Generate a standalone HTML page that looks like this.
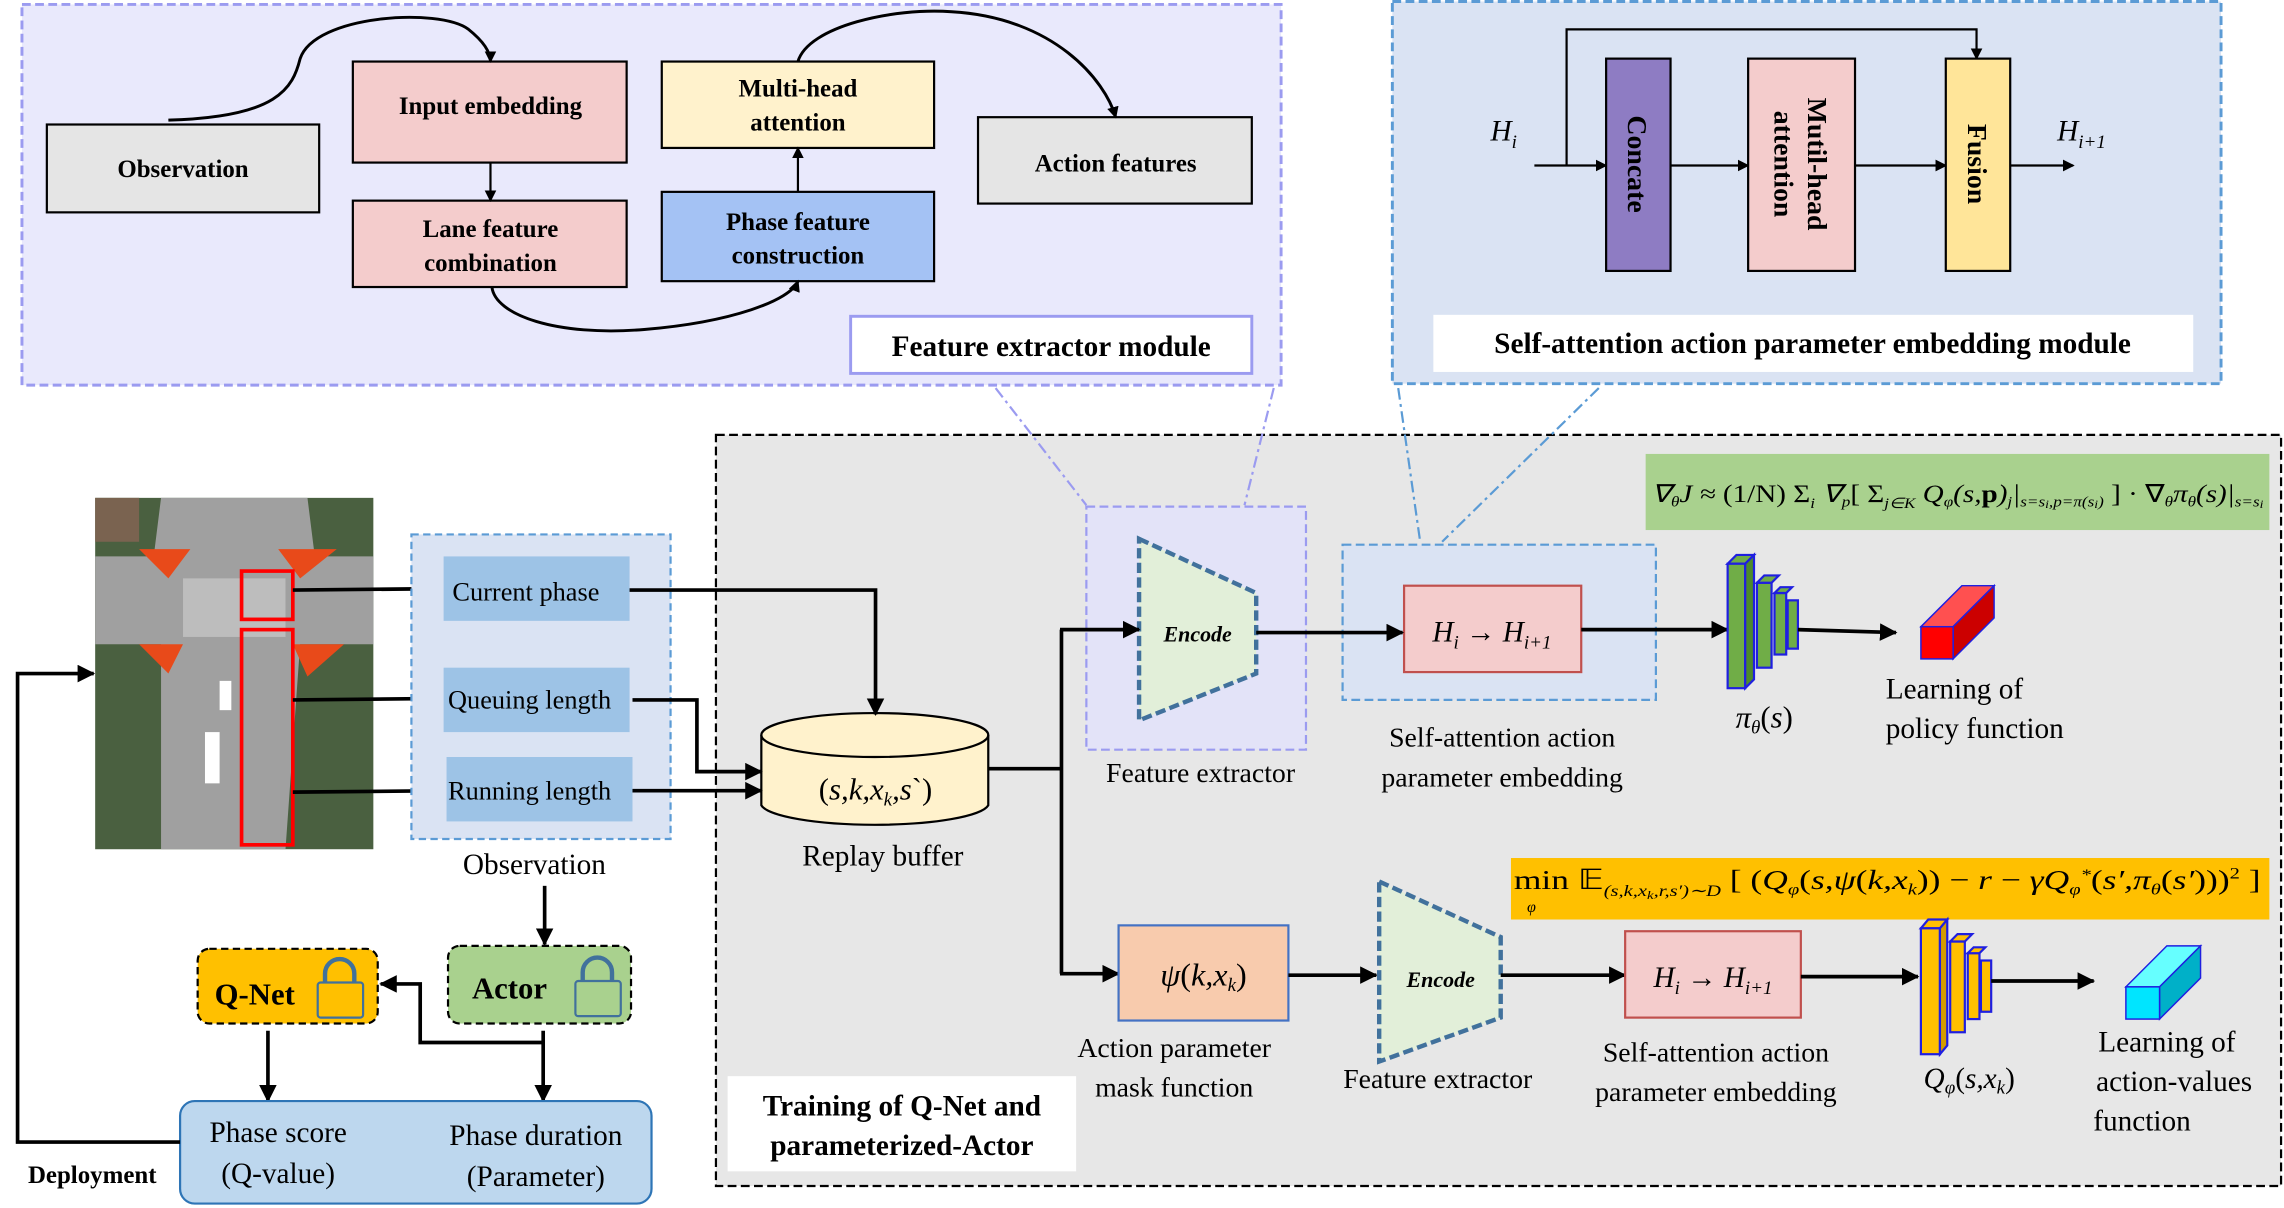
<!DOCTYPE html>
<html><head><meta charset="utf-8"><style>
html,body{margin:0;padding:0;background:#fff}
svg{display:block}
text{font-family:"Liberation Serif",serif;fill:#000}
.b{font-weight:bold}
.i{font-style:italic}
</style></head><body>
<svg width="2284" height="1208" viewBox="0 0 1560 825" xmlns="http://www.w3.org/2000/svg">
<defs>
<marker id="a" markerWidth="8" markerHeight="8" refX="7" refY="4" orient="auto" markerUnits="userSpaceOnUse"><path d="M0,0 L8,4 L0,8 z" fill="#000"/></marker>
<marker id="a2" markerWidth="12" markerHeight="12" refX="11" refY="6" orient="auto" markerUnits="userSpaceOnUse"><path d="M0,0 L12,6 L0,12 z" fill="#000"/></marker>
</defs>

<!-- Feature extractor module -->
<rect x="15" y="3" width="860" height="260" fill="#e9e9fc" stroke="#9b9bf0" stroke-width="2" stroke-dasharray="6,3"/>
<rect x="32" y="85" width="186" height="60" fill="#e5e5e5" stroke="#000" stroke-width="1.5"/>
<text x="125" y="121" class="b" font-size="17" text-anchor="middle">Observation</text>
<rect x="241" y="42" width="187" height="69" fill="#f4cccc" stroke="#000" stroke-width="1.5"/>
<text x="335" y="78" class="b" font-size="17" text-anchor="middle">Input embedding</text>
<rect x="241" y="137" width="187" height="59" fill="#f4cccc" stroke="#000" stroke-width="1.5"/>
<text x="335" y="162" class="b" font-size="17" text-anchor="middle">Lane feature</text>
<text x="335" y="185" class="b" font-size="17" text-anchor="middle">combination</text>
<rect x="452" y="42" width="186" height="59" fill="#fff2cc" stroke="#000" stroke-width="1.5"/>
<text x="545" y="66" class="b" font-size="17" text-anchor="middle">Multi-head</text>
<text x="545" y="89" class="b" font-size="17" text-anchor="middle">attention</text>
<rect x="452" y="131" width="186" height="61" fill="#a4c2f4" stroke="#000" stroke-width="1.5"/>
<text x="545" y="157" class="b" font-size="17" text-anchor="middle">Phase feature</text>
<text x="545" y="180" class="b" font-size="17" text-anchor="middle">construction</text>
<rect x="668" y="80" width="187" height="59" fill="#e5e5e5" stroke="#000" stroke-width="1.5"/>
<text x="762" y="117" class="b" font-size="17" text-anchor="middle">Action features</text>
<path d="M115,82 C190,80 200,60 205,40 C215,10 300,5 320,20 C330,28 335,35 335,42" fill="none" stroke="#000" stroke-width="2" marker-end="url(#a)"/>
<line x1="335" y1="111" x2="335" y2="137" stroke="#000" stroke-width="1.5" marker-end="url(#a)"/>
<path d="M336,196 C338,215 380,230 440,225 C500,220 540,205 545,192" fill="none" stroke="#000" stroke-width="2" marker-end="url(#a)"/>
<line x1="545" y1="131" x2="545" y2="101" stroke="#000" stroke-width="1.5" marker-end="url(#a)"/>
<path d="M545,42 C552,18 610,5 650,8 C720,12 755,55 762,80" fill="none" stroke="#000" stroke-width="2" marker-end="url(#a)"/>
<rect x="581" y="216" width="274" height="39" fill="#fff" stroke="#9b9bf0" stroke-width="2"/>
<text x="718" y="243" class="b" font-size="20" text-anchor="middle">Feature extractor module</text>

<!-- Self-attention module -->
<rect x="951" y="1" width="566" height="261" fill="#dae3f3" stroke="#5b9bd5" stroke-width="2" stroke-dasharray="6,3"/>
<text x="1018" y="96" class="i" font-size="20">H<tspan font-size="13" dy="5">i</tspan></text>
<line x1="1048" y1="113" x2="1097" y2="113" stroke="#000" stroke-width="1.5" marker-end="url(#a)"/>
<polyline points="1070,113 1070,20 1350,20 1350,40" fill="none" stroke="#000" stroke-width="1.5" marker-end="url(#a)"/>
<rect x="1097" y="40" width="44" height="145" fill="#8e7cc3" stroke="#000" stroke-width="1.5"/>
<text transform="translate(1112,112) rotate(90)" class="b" font-size="19" text-anchor="middle">Concate</text>
<line x1="1141" y1="113" x2="1194" y2="113" stroke="#000" stroke-width="1.5" marker-end="url(#a)"/>
<rect x="1194" y="40" width="73" height="145" fill="#f4cccc" stroke="#000" stroke-width="1.5"/>
<text transform="translate(1235,112) rotate(90)" class="b" font-size="19" text-anchor="middle">Mutil-head</text>
<text transform="translate(1212,112) rotate(90)" class="b" font-size="19" text-anchor="middle">attention</text>
<line x1="1267" y1="113" x2="1329" y2="113" stroke="#000" stroke-width="1.5" marker-end="url(#a)"/>
<rect x="1329" y="40" width="44" height="145" fill="#ffe599" stroke="#000" stroke-width="1.5"/>
<text transform="translate(1344,112) rotate(90)" class="b" font-size="19" text-anchor="middle">Fusion</text>
<line x1="1373" y1="113" x2="1416" y2="113" stroke="#000" stroke-width="1.5" marker-end="url(#a)"/>
<text x="1405" y="96" class="i" font-size="20">H<tspan font-size="13" dy="5">i+1</tspan></text>
<rect x="979" y="215" width="519" height="39" fill="#fff"/>
<text x="1238" y="241" class="b" font-size="20" text-anchor="middle">Self-attention action parameter embedding module</text>

<!-- Training box -->
<rect x="489" y="297" width="1069" height="513" fill="#e7e7e7" stroke="#000" stroke-width="1.5" stroke-dasharray="6,3"/>

<!-- dash-dot connectors -->
<line x1="680" y1="265" x2="742" y2="345" stroke="#9b9bf0" stroke-width="1.5" stroke-dasharray="8,3,2,3"/>
<line x1="870" y1="265" x2="850" y2="345" stroke="#9b9bf0" stroke-width="1.5" stroke-dasharray="8,3,2,3"/>
<line x1="955" y1="265" x2="970" y2="370" stroke="#5b9bd5" stroke-width="1.5" stroke-dasharray="8,3,2,3"/>
<line x1="1092" y1="265" x2="985" y2="370" stroke="#5b9bd5" stroke-width="1.5" stroke-dasharray="8,3,2,3"/>

<rect x="1124" y="310" width="426" height="52" fill="#a9d18e"/>
<text x="1128" y="343" font-size="17" class="i" textLength="418" lengthAdjust="spacingAndGlyphs">∇<tspan font-size="10" dy="3">θ</tspan><tspan dy="-3">J ≈ </tspan><tspan font-style="normal">(1/N) Σ</tspan><tspan font-size="10" dy="4">i</tspan><tspan dy="-4"> ∇</tspan><tspan font-size="10" dy="3">p</tspan><tspan dy="-3" font-style="normal">[ Σ</tspan><tspan font-size="10" dy="4">j∈K</tspan><tspan dy="-4"> Q</tspan><tspan font-size="10" dy="3">φ</tspan><tspan dy="-3">(s,</tspan><tspan font-weight="bold" font-style="normal">p</tspan><tspan>)</tspan><tspan font-size="10" dy="3">j</tspan><tspan dy="-3">|</tspan><tspan font-size="10" dy="3">s=s</tspan><tspan font-size="8" dy="1">i</tspan><tspan font-size="10" dy="-1">,p=π(s</tspan><tspan font-size="8" dy="1">i</tspan><tspan font-size="10" dy="-1">)</tspan><tspan dy="-3" font-style="normal"> ] · ∇</tspan><tspan font-size="10" dy="3">θ</tspan><tspan dy="-3">π</tspan><tspan font-size="10" dy="3">θ</tspan><tspan dy="-3">(s)|</tspan><tspan font-size="10" dy="3">s=s</tspan><tspan font-size="8" dy="1">i</tspan></text>

<!-- Feature extractor (upper) -->
<rect x="742" y="346" width="150" height="166" fill="#e3e3f8" stroke="#9b9bf0" stroke-width="1.5" stroke-dasharray="6,3"/>
<polygon points="778,368 858,405 858,460 778,492" fill="#e2efd9" stroke="#41719c" stroke-width="3" stroke-dasharray="7,3"/>
<text x="818" y="438" class="b i" font-size="15" text-anchor="middle">Encode</text>
<text x="820" y="534" font-size="19" text-anchor="middle">Feature extractor</text>
<rect x="917" y="372" width="214" height="106" fill="#dae3f3" stroke="#5b9bd5" stroke-width="1.5" stroke-dasharray="6,3"/>
<rect x="959" y="400" width="121" height="59" fill="#f4cccc" stroke="#c0504d" stroke-width="1.5"/>
<text x="1019" y="438" class="i" font-size="20" text-anchor="middle">H<tspan font-size="13" dy="5">i</tspan><tspan dy="-5" font-style="normal"> → </tspan>H<tspan font-size="13" dy="5">i+1</tspan></text>
<text x="1026" y="510" font-size="19" text-anchor="middle">Self-attention action</text>
<text x="1026" y="537" font-size="19" text-anchor="middle">parameter embedding</text>
<line x1="858" y1="432" x2="958" y2="432" stroke="#000" stroke-width="2.5" marker-end="url(#a2)"/>
<line x1="1080" y1="430" x2="1180" y2="430" stroke="#000" stroke-width="2.5" marker-end="url(#a2)"/>
<g stroke="#1f1fe0" stroke-width="1.5">
<polygon points="1180,385 1186,379 1198,379 1192,385" fill="#70ad47"/>
<rect x="1180" y="385" width="12" height="85" fill="#70ad47"/>
<polygon points="1192,385 1198,379 1198,464 1192,470" fill="#4e8a2c"/>
<rect x="1200" y="398" width="10" height="58" fill="#70ad47"/>
<polygon points="1200,398 1205,393 1215,393 1210,398" fill="#70ad47"/>
<rect x="1212" y="405" width="8" height="42" fill="#70ad47"/>
<polygon points="1212,405 1216,401 1224,401 1220,405" fill="#70ad47"/>
<rect x="1221" y="410" width="7" height="33" fill="#70ad47"/>
</g>
<text x="1205" y="497" font-size="21" text-anchor="middle" class="i">π<tspan font-size="13" dy="4">θ</tspan><tspan dy="-4" font-style="normal">(</tspan>s<tspan font-style="normal">)</tspan></text>
<line x1="1228" y1="430" x2="1295" y2="432" stroke="#000" stroke-width="2.5" marker-end="url(#a2)"/>
<g stroke="#1f1fe0" stroke-width="1">
<polygon points="1312,428 1340,400 1362,400 1334,428" fill="#ff5050"/>
<polygon points="1334,428 1362,400 1362,422 1334,450" fill="#cc0000"/>
<rect x="1312" y="428" width="22" height="22" fill="#ff0000"/>
</g>
<text x="1288" y="477" font-size="20">Learning of</text>
<text x="1288" y="504" font-size="20">policy function</text>

<!-- Replay buffer -->
<path d="M520,502 L520,550 A78,15 0 0 0 675,550 L675,502" fill="#fff2cc" stroke="#000" stroke-width="1.5"/>
<ellipse cx="597.5" cy="502" rx="77.5" ry="15" fill="#fff2cc" stroke="#000" stroke-width="1.5"/>
<text x="598" y="546" class="i" font-size="21" text-anchor="middle"><tspan font-style="normal">(</tspan>s,k,x<tspan font-size="13" dy="4">k</tspan><tspan dy="-4">,s</tspan><tspan font-style="normal">`)</tspan></text>
<text x="603" y="591" font-size="20" text-anchor="middle">Replay buffer</text>
<polyline points="675,525 725,525" fill="none" stroke="#000" stroke-width="2.5"/>
<line x1="725" y1="430" x2="725" y2="665" stroke="#000" stroke-width="2.5"/>
<line x1="724" y1="430" x2="778" y2="430" stroke="#000" stroke-width="2.5" marker-end="url(#a2)"/>
<line x1="724" y1="665" x2="764" y2="665" stroke="#000" stroke-width="2.5" marker-end="url(#a2)"/>

<!-- Lower path -->
<rect x="1032" y="586" width="518" height="42" fill="#ffc000"/>
<text x="1034" y="607" font-size="19" class="i" textLength="510" lengthAdjust="spacingAndGlyphs"><tspan font-style="normal">min</tspan><tspan font-style="normal"> 𝔼</tspan><tspan font-size="11" dy="5">(s,k,x</tspan><tspan font-size="8" dy="2">k</tspan><tspan font-size="11" dy="-2">,r,s′)∼D</tspan><tspan dy="-5" font-style="normal"> [ (</tspan>Q<tspan font-size="11" dy="4">φ</tspan><tspan dy="-4" font-style="normal">(</tspan>s,ψ<tspan font-style="normal">(</tspan>k,x<tspan font-size="11" dy="4">k</tspan><tspan dy="-4" font-style="normal">)) − </tspan>r<tspan font-style="normal"> − </tspan>γQ<tspan font-size="11" dy="4">φ</tspan><tspan font-size="11" dy="-10">*</tspan><tspan dy="6" font-style="normal">(</tspan>s′,π<tspan font-size="11" dy="4">θ</tspan><tspan dy="-4" font-style="normal">(</tspan>s′<tspan font-style="normal">)))</tspan><tspan font-size="11" dy="-7" font-style="normal">2</tspan><tspan dy="7" font-style="normal"> ]</tspan></text>
<text x="1043" y="623" font-size="11" class="i">φ</text>
<rect x="764" y="632" width="116" height="65" fill="#f8cbad" stroke="#4472c4" stroke-width="1.5"/>
<text x="822" y="673" class="i" font-size="22" text-anchor="middle">ψ<tspan font-style="normal">(</tspan>k,x<tspan font-size="13" dy="4">k</tspan><tspan dy="-4" font-style="normal">)</tspan></text>
<text x="802" y="722" font-size="19" text-anchor="middle">Action parameter</text>
<text x="802" y="749" font-size="19" text-anchor="middle">mask function</text>
<line x1="880" y1="666" x2="940" y2="666" stroke="#000" stroke-width="2.5" marker-end="url(#a2)"/>
<polygon points="942,602 1025,640 1025,695 942,725" fill="#e2efd9" stroke="#41719c" stroke-width="3" stroke-dasharray="7,3"/>
<text x="984" y="674" class="b i" font-size="15" text-anchor="middle">Encode</text>
<text x="982" y="743" font-size="19" text-anchor="middle">Feature extractor</text>
<line x1="1025" y1="666" x2="1110" y2="666" stroke="#000" stroke-width="2.5" marker-end="url(#a2)"/>
<rect x="1110" y="636" width="120" height="59" fill="#f4cccc" stroke="#c0504d" stroke-width="1.5"/>
<text x="1170" y="674" class="i" font-size="20" text-anchor="middle">H<tspan font-size="13" dy="5">i</tspan><tspan dy="-5" font-style="normal"> → </tspan>H<tspan font-size="13" dy="5">i+1</tspan></text>
<text x="1172" y="725" font-size="19" text-anchor="middle">Self-attention action</text>
<text x="1172" y="752" font-size="19" text-anchor="middle">parameter embedding</text>
<line x1="1230" y1="667" x2="1310" y2="667" stroke="#000" stroke-width="2.5" marker-end="url(#a2)"/>
<g stroke="#1f1fe0" stroke-width="1.5">
<polygon points="1312,634 1317,628 1330,628 1325,634" fill="#ffc000"/>
<rect x="1312" y="634" width="13" height="86" fill="#ffc000"/>
<polygon points="1325,634 1330,628 1330,714 1325,720" fill="#d39c00"/>
<rect x="1332" y="643" width="10" height="62" fill="#ffc000"/>
<polygon points="1332,643 1337,638 1347,638 1342,643" fill="#ffc000"/>
<rect x="1344" y="651" width="8" height="45" fill="#ffc000"/>
<polygon points="1344,651 1348,647 1356,647 1352,651" fill="#ffc000"/>
<rect x="1353" y="656" width="7" height="35" fill="#ffc000"/>
</g>
<text x="1345" y="743" class="i" font-size="20" text-anchor="middle">Q<tspan font-size="13" dy="4">φ</tspan><tspan dy="-4" font-style="normal">(</tspan>s,x<tspan font-size="13" dy="4">k</tspan><tspan dy="-4" font-style="normal">)</tspan></text>
<line x1="1360" y1="670" x2="1430" y2="670" stroke="#000" stroke-width="2.5" marker-end="url(#a2)"/>
<g stroke="#1f1fe0" stroke-width="1">
<polygon points="1452,674 1480,646 1503,646 1475,674" fill="#66ffff"/>
<polygon points="1475,674 1503,646 1503,668 1475,696" fill="#00b0c8"/>
<rect x="1452" y="674" width="23" height="22" fill="#00e5ff"/>
</g>
<text x="1480" y="718" font-size="20" text-anchor="middle">Learning of</text>
<text x="1485" y="745" font-size="20" text-anchor="middle">action-values</text>
<text x="1463" y="772" font-size="20" text-anchor="middle">function</text>
<rect x="497" y="735" width="238" height="65" fill="#fff"/>
<text x="616" y="762" class="b" font-size="20" text-anchor="middle">Training of Q-Net and</text>
<text x="616" y="789" class="b" font-size="20" text-anchor="middle">parameterized-Actor</text>

<!-- Intersection image -->
<g>
<rect x="65" y="340" width="190" height="240" fill="#4a6040"/>
<rect x="65" y="340" width="30" height="30" fill="#7a6350"/>
<polygon points="110,340 210,340 215,380 255,380 255,440 205,440 195,580 110,580 110,440 65,440 65,380 105,380" fill="#a0a0a0"/>
<polygon points="95,375 130,375 115,395" fill="#e84a1a"/>
<polygon points="190,375 230,375 205,395" fill="#e84a1a"/>
<polygon points="95,440 125,440 115,460" fill="#e84a1a"/>
<polygon points="200,440 235,440 210,462" fill="#e84a1a"/>
<rect x="125" y="395" width="70" height="40" fill="#bdbdbd"/>
<rect x="140" y="500" width="10" height="35" fill="#fff"/>
<rect x="150" y="465" width="8" height="20" fill="#fff"/>
<rect x="165" y="390" width="35" height="33" fill="none" stroke="#f00" stroke-width="2.5"/>
<rect x="165" y="430" width="35" height="147" fill="none" stroke="#f00" stroke-width="2.5"/>
</g>
<line x1="200" y1="403" x2="303" y2="402" stroke="#000" stroke-width="2.5" marker-end="url(#a2)"/>
<line x1="200" y1="478" x2="303" y2="477" stroke="#000" stroke-width="2.5" marker-end="url(#a2)"/>
<line x1="200" y1="541" x2="304" y2="540" stroke="#000" stroke-width="2.5" marker-end="url(#a2)"/>

<!-- Observation -->
<rect x="281" y="365" width="177" height="208" fill="#dae3f3" stroke="#5b9bd5" stroke-width="1.5" stroke-dasharray="5,3"/>
<rect x="303" y="380" width="127" height="44" fill="#9dc3e6"/>
<text x="309" y="410" font-size="18">Current phase</text>
<rect x="303" y="456" width="127" height="44" fill="#9dc3e6"/>
<text x="306" y="484" font-size="18">Queuing length</text>
<rect x="305" y="517" width="127" height="44" fill="#9dc3e6"/>
<text x="306" y="546" font-size="18">Running length</text>
<text x="365" y="597" font-size="20" text-anchor="middle">Observation</text>
<polyline points="430,403 598,403 598,488" fill="none" stroke="#000" stroke-width="2.5" marker-end="url(#a2)"/>
<polyline points="432,478 476,478 476,527 520,527" fill="none" stroke="#000" stroke-width="2.5" marker-end="url(#a2)"/>
<line x1="432" y1="540" x2="520" y2="540" stroke="#000" stroke-width="2.5" marker-end="url(#a2)"/>
<line x1="372" y1="605" x2="372" y2="645" stroke="#000" stroke-width="2.5" marker-end="url(#a2)"/>

<!-- Actor / Q-Net -->
<rect x="306" y="646" width="125" height="53" rx="8" fill="#a9d18e" stroke="#000" stroke-width="1.5" stroke-dasharray="5,3"/>
<text x="348" y="682" class="b" font-size="21" text-anchor="middle">Actor</text>
<rect x="393" y="670" width="31" height="24" rx="2" fill="#a9d18e" stroke="#41719c" stroke-width="1.5"/>
<path d="M398,670 L398,664 A10,10 0 0 1 418,664 L418,670" fill="none" stroke="#41719c" stroke-width="3"/>
<rect x="135" y="648" width="123" height="51" rx="8" fill="#ffc000" stroke="#000" stroke-width="1.5" stroke-dasharray="5,3"/>
<text x="174" y="686" class="b" font-size="21" text-anchor="middle">Q-Net</text>
<rect x="217" y="671" width="31" height="24" rx="2" fill="#ffc000" stroke="#41719c" stroke-width="1.5"/>
<path d="M222,671 L222,665 A10,10 0 0 1 242,665 L242,671" fill="none" stroke="#41719c" stroke-width="3"/>
<line x1="371" y1="704" x2="371" y2="752" stroke="#000" stroke-width="2.5" marker-end="url(#a2)"/>
<polyline points="371,712 287,712 287,672 260,672" fill="none" stroke="#000" stroke-width="2.5" marker-end="url(#a2)"/>
<line x1="183" y1="704" x2="183" y2="752" stroke="#000" stroke-width="2.5" marker-end="url(#a2)"/>
<rect x="123" y="752" width="322" height="70" rx="10" fill="#bdd7ee" stroke="#2e75b6" stroke-width="1.5"/>
<text x="190" y="780" font-size="20" text-anchor="middle">Phase score</text>
<text x="190" y="808" font-size="20" text-anchor="middle">(Q-value)</text>
<text x="366" y="782" font-size="20" text-anchor="middle">Phase duration</text>
<text x="366" y="810" font-size="20" text-anchor="middle">(Parameter)</text>
<polyline points="123,780 12,780 12,460 64,460" fill="none" stroke="#000" stroke-width="2.5" marker-end="url(#a2)"/>
<text x="63" y="808" class="b" font-size="17" text-anchor="middle">Deployment</text>
</svg>
</body></html>
